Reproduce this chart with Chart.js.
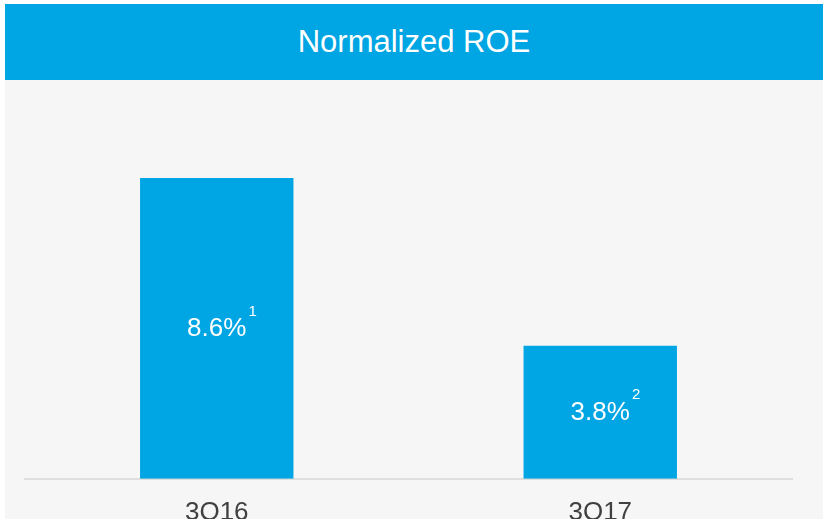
<!DOCTYPE html>
<html>
<head>
<meta charset="utf-8">
<script src="https://cdn.jsdelivr.net/npm/chart.js@4"></script>
<style>
    html, body { margin: 0; padding: 0; background: #ffffff; overflow: hidden; width: 823px; height: 519px; }
    #panel { position: absolute; left: 5px; top: 4px; width: 818px; height: 560px; background: #f6f6f6; }
    #header {
        height: 76px; background: #00a5e3; color: #ffffff;
        font-family: "Liberation Sans", Arial, sans-serif; font-size: 31px;
        display: flex; align-items: center; justify-content: center;
    }
    #chartBox { position: absolute; left: 0; top: 76px; width: 818px; height: 466px; }
</style>
</head>
<body>
<div id="panel">
    <div id="header">Normalized ROE</div>
    <div id="chartBox"><canvas id="roeChart"></canvas></div>
</div>
<script>
const categories = ['3Q16', '3Q17'];
const roeValues = [8.6, 3.8];
const footnotes = ['1', '2'];

const barBlue = '#00a5e3';

// writes the value in the middle of each bar, with its footnote mark
const barLabels = {
    id: 'barLabels',
    afterDatasetsDraw(chart) {
        const ctx = chart.ctx;
        const meta = chart.getDatasetMeta(0);
        meta.data.forEach((bar, i) => {
            const text = roeValues[i].toFixed(1) + '%';
            const cy = (bar.y + bar.base) / 2;
            ctx.save();
            ctx.fillStyle = '#ffffff';
            ctx.font = '26px "Liberation Sans", Arial, sans-serif';
            ctx.textAlign = 'center';
            ctx.textBaseline = 'middle';
            ctx.fillText(text, bar.x, cy);
            const w = ctx.measureText(text).width;
            ctx.font = '15px "Liberation Sans", Arial, sans-serif';
            ctx.textAlign = 'left';
            ctx.fillText(footnotes[i], bar.x + w / 2 + 2, cy - 17);
            ctx.restore();
        });
    }
};

const ctx = document.getElementById('roeChart');
new Chart(ctx, {
    type: 'bar',
    data: {
        labels: categories,
        datasets: [{
            label: 'Normalized ROE',
            data: roeValues,
            backgroundColor: barBlue,
            borderWidth: 0,
            categoryPercentage: 0.4,
            barPercentage: 1
        }]
    },
    options: {
        responsive: true,
        maintainAspectRatio: false,
        animation: false,
        layout: {
            padding: { left: 20, right: 31, top: 0, bottom: 0 }
        },
        scales: {
            x: {
                grid: { display: false, drawTicks: false },
                border: { display: true, color: '#dedede', width: 2 },
                ticks: {
                    color: '#404040',
                    padding: 18,
                    font: { family: '"Liberation Sans", Arial, sans-serif', size: 26 }
                }
            },
            y: {
                display: false,
                min: 0,
                max: 11.4
            }
        },
        plugins: {
            legend: { display: false },
            tooltip: { enabled: false }
        }
    },
    plugins: [barLabels]
});
</script>
</body>
</html>
